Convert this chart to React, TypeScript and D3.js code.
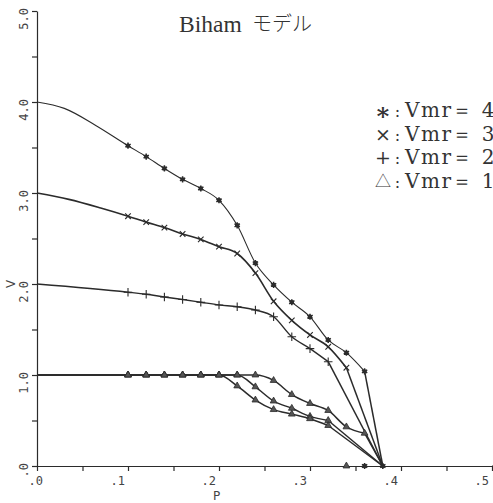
import { useEffect, useRef } from "react";
import * as d3 from "d3";

// all curves run down to the P axis at the same point
const pEnd = 0.38;

// * : Vmr = 4
const vmr4P = [0, 0.03, 0.065, 0.1, 0.12, 0.14, 0.16, 0.18, 0.2, 0.22, 0.24, 0.26, 0.28, 0.3, 0.32, 0.34, 0.36];
const vmr4V = [4.0, 3.93, 3.74, 3.52, 3.4, 3.27, 3.15, 3.05, 2.92, 2.645, 2.23, 1.99, 1.8, 1.64, 1.385, 1.245, 1.04];

// x : Vmr = 3
const vmr3P = [0, 0.035, 0.07, 0.1, 0.12, 0.14, 0.16, 0.18, 0.2, 0.22, 0.24, 0.26, 0.28, 0.3, 0.32, 0.34];
const vmr3V = [3.0, 2.93, 2.835, 2.745, 2.68, 2.62, 2.55, 2.49, 2.41, 2.335, 2.12, 1.81, 1.6, 1.44, 1.31, 1.08];

// + : Vmr = 2
const vmr2P = [0, 0.1, 0.12, 0.14, 0.16, 0.18, 0.2, 0.22, 0.24, 0.26, 0.28, 0.3, 0.32];
const vmr2V = [2.0, 1.91, 1.887, 1.857, 1.83, 1.8, 1.77, 1.75, 1.714, 1.64, 1.42, 1.29, 1.146];

// triangle : Vmr = 1 (three branches off the flat line)
const triAP = [0, 0.1, 0.12, 0.14, 0.16, 0.18, 0.2, 0.22, 0.24, 0.26, 0.28, 0.3, 0.32, 0.34, 0.36];
const triAV = [1, 1, 1, 1, 1, 1, 1, 1, 1, 0.94, 0.785, 0.687, 0.61, 0.43, 0.36];
const triBP = [0, 0.1, 0.12, 0.14, 0.16, 0.18, 0.2, 0.22, 0.24, 0.26, 0.28, 0.3, 0.32];
const triBV = [1, 1, 1, 1, 1, 1, 1, 1, 0.87, 0.714, 0.634, 0.545, 0.5];
const triCP = [0, 0.1, 0.12, 0.14, 0.16, 0.18, 0.2, 0.22, 0.24, 0.26, 0.28, 0.3, 0.32];
const triCV = [1, 1, 1, 1, 1, 1, 1, 0.88, 0.725, 0.62, 0.57, 0.52, 0.445];

// stray marks lying on the P axis
const zeroTriP = [0.34];
const zeroStarP = [0.36, 0.38];

const yTicks = [0, 0.5, 1, 1.5, 2, 2.5, 3, 3.5, 4, 4.5, 5];
const yLabels = [".0", "1.0", "2.0", "3.0", "4.0", "5.0"];
const xTicks = [0, 0.05, 0.1, 0.15, 0.2, 0.25, 0.3, 0.35, 0.4, 0.45, 0.5];
const xLabels = [".0", ".1", ".2", ".3", ".4", ".5"];

const legendMarks = ["∗", "×", "+", "△"];
const legendVals = ["4", "3", "2", "1"];

const ink = "#2b2b2b";

export default function App() {
  const ref = useRef<SVGSVGElement>(null);

  useEffect(() => {
    const svg = d3.select(ref.current);
    svg.selectAll("*").remove();

    const x = d3.scaleLinear().domain([0, 0.5]).range([37, 492]);
    const y = d3.scaleLinear().domain([0, 5]).range([466, 11]);

    // axes
    const axisFont = "'DejaVu Sans Mono', monospace";
    svg.append("g")
      .attr("transform", `translate(${x(0)},0)`)
      .call(d3.axisLeft(y).tickValues(yTicks).tickSize(5).tickSizeOuter(0).tickFormat(() => ""))
      .call((g) => g.selectAll("path,line").attr("stroke", ink).attr("stroke-width", 1.2));
    svg.append("g")
      .attr("transform", `translate(0,${y(0)})`)
      .call(d3.axisBottom(x).tickValues(xTicks).tickSize(5).tickSizeOuter(0).tickFormat(() => ""))
      .call((g) => g.selectAll("path,line").attr("stroke", ink).attr("stroke-width", 1.2));
    svg.append("line")
      .attr("x1", x(0.5)).attr("x2", 493)
      .attr("y1", y(0)).attr("y2", y(0))
      .attr("stroke", ink).attr("stroke-width", 1.2);

    yLabels.forEach((t, i) => {
      svg.append("text")
        .attr("transform", `translate(28,${y(i) - 3}) rotate(-90)`)
        .attr("text-anchor", "end")
        .attr("font-family", axisFont)
        .attr("font-size", 12)
        .attr("fill", "#444")
        .text(t);
    });
    xLabels.forEach((t, i) => {
      svg.append("text")
        .attr("x", i === 0 ? x(0) + 6 : x(i / 10) - 3)
        .attr("y", 485)
        .attr("text-anchor", "end")
        .attr("font-family", axisFont)
        .attr("font-size", 12)
        .attr("fill", "#444")
        .text(t);
    });
    svg.append("text")
      .attr("transform", `translate(15,284) rotate(-90)`)
      .attr("text-anchor", "middle")
      .attr("font-family", "'DejaVu Sans', sans-serif")
      .attr("font-size", 12)
      .attr("fill", "#444")
      .text("V");
    svg.append("text")
      .attr("x", 216.5)
      .attr("y", 500)
      .attr("text-anchor", "middle")
      .attr("font-family", "'DejaVu Sans', sans-serif")
      .attr("font-size", 12)
      .attr("fill", "#444")
      .text("P");

    // markers
    const drawMark = (kind: string, px: number, py: number) => {
      const g = svg.append("g").attr("transform", `translate(${px},${py})`);
      if (kind === "star") {
        g.append("path").attr("d", d3.symbol(d3.symbolAsterisk, 26)()).attr("fill", "none").attr("stroke", ink).attr("stroke-width", 1.5);
        g.append("circle").attr("r", 2.2).attr("fill", ink);
      } else if (kind === "times") {
        g.append("path").attr("d", d3.symbol(d3.symbolTimes, 22)()).attr("fill", "none").attr("stroke", ink).attr("stroke-width", 1.1);
      } else if (kind === "plus") {
        g.append("path").attr("d", d3.symbol(d3.symbolPlus, 26)()).attr("fill", "none").attr("stroke", ink).attr("stroke-width", 1.1);
      } else {
        g.append("path").attr("d", d3.symbol(d3.symbolTriangle, 20)()).attr("fill", "#555").attr("stroke", ink).attr("stroke-width", 0.8);
      }
    };

    const series = [
      { p: vmr4P, v: vmr4V, kind: "star", w: 1.1 },
      { p: vmr3P, v: vmr3V, kind: "times", w: 1.6 },
      { p: vmr2P, v: vmr2V, kind: "plus", w: 1.4 },
      { p: triAP, v: triAV, kind: "tri", w: 1.5 },
      { p: triBP, v: triBV, kind: "tri", w: 1.5 },
      { p: triCP, v: triCV, kind: "tri", w: 1.5 },
    ];

    const line = d3.line<[number, number]>()
      .x((d) => x(d[0]))
      .y((d) => y(d[1]))
      .curve(d3.curveMonotoneX);

    series.forEach((s) => {
      const pts: [number, number][] = s.p.map((p, i) => [p, s.v[i]]);
      svg.append("path")
        .attr("d", line(pts))
        .attr("fill", "none")
        .attr("stroke", ink)
        .attr("stroke-width", s.w);
      const last = pts[pts.length - 1];
      svg.append("line")
        .attr("x1", x(last[0])).attr("y1", y(last[1]))
        .attr("x2", x(pEnd)).attr("y2", y(0))
        .attr("stroke", ink)
        .attr("stroke-width", 1.5);
    });

    series.forEach((s) => {
      s.p.forEach((p, i) => {
        if (p >= 0.1) drawMark(s.kind, x(p), y(s.v[i]));
      });
    });
    zeroTriP.forEach((p) => drawMark("tri", x(p), y(0)));
    zeroStarP.forEach((p) => drawMark("star", x(p), y(0)));

    // title
    svg.append("text")
      .attr("x", 179).attr("y", 32)
      .attr("font-family", "'Liberation Serif', serif")
      .attr("font-size", 23.5)
      .attr("fill", "#333")
      .text("Biham");
    svg.append("text")
      .attr("x", 252).attr("y", 31)
      .attr("font-family", "'Noto Sans CJK JP', sans-serif")
      .attr("font-size", 20)
      .attr("font-weight", 300)
      .attr("fill", "#333")
      .text("モデル");

    // legend
    legendMarks.forEach((m, i) => {
      const by = 117 + i * 23.5;
      const tri = m === "△";
      svg.append("text")
        .attr("x", 383).attr("y", tri ? by - 1 : m === "∗" ? by + 3 : by)
        .attr("text-anchor", "middle")
        .attr("font-family", tri ? "'Noto Sans CJK JP', sans-serif" : "'DejaVu Serif', serif")
        .attr("font-size", tri ? 16 : m === "∗" ? 24 : 19)
        .attr("font-weight", m === "∗" ? "bold" : tri ? 300 : "normal")
        .attr("fill", "#333")
        .text(m);
      svg.append("text")
        .attr("x", 397.5).attr("y", by)
        .attr("text-anchor", "middle")
        .attr("font-family", "'DejaVu Serif', serif")
        .attr("font-size", 16)
        .attr("fill", "#333")
        .text(":");
      svg.append("text")
        .attr("x", 405).attr("y", by)
        .attr("font-family", "'DejaVu Serif', serif")
        .attr("font-size", 20)
        .attr("letter-spacing", 1.5)
        .attr("fill", "#333")
        .text(`Vmr＝ ${legendVals[i]}`);
    });
  }, []);

  return (
    <svg
      ref={ref}
      width={493}
      height={503}
      style={{ position: "absolute", left: 0, top: 0, background: "#fff" }}
    />
  );
}
